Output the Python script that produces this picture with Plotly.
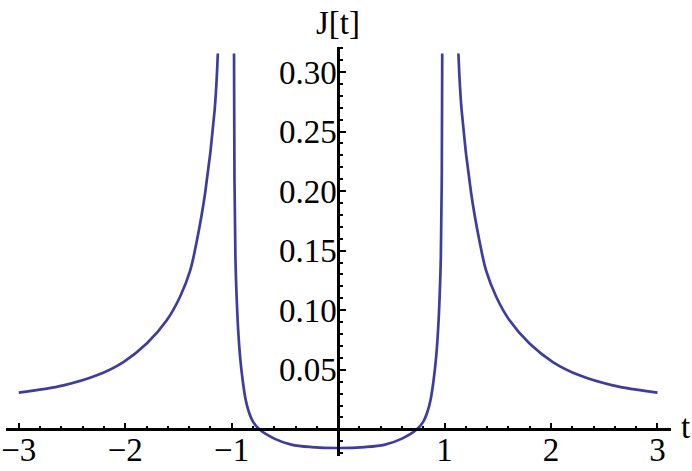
import plotly.graph_objects as go

# Left outer branch (t < -1)
t_left = [-3.0, -2.58, -2.267, -2.017, -1.798, -1.61, -1.485, -1.391, -1.328, -1.25, -1.16, -1.13]
j_left = [0.0308, 0.0369, 0.0453, 0.0565, 0.0720, 0.0915, 0.1113, 0.133, 0.158, 0.198, 0.268, 0.3155]

# Middle branch (-1 < t < 1)
t_mid = [-0.978, -0.974, -0.965, -0.955, -0.94, -0.92, -0.895, -0.87, -0.84, -0.80, -0.74, -0.60, -0.44, -0.25, 0.0,
         0.25, 0.44, 0.60, 0.74, 0.80, 0.84, 0.87, 0.895, 0.92, 0.94, 0.955, 0.965, 0.974, 0.978]
j_mid = [0.3155, 0.215, 0.145, 0.115, 0.085, 0.060, 0.040, 0.0255, 0.015, 0.0065, 0.0, -0.0078, -0.0128, -0.0149, -0.0157,
         -0.0149, -0.0128, -0.0078, 0.0, 0.0065, 0.015, 0.0255, 0.040, 0.060, 0.085, 0.115, 0.145, 0.215, 0.3155]

# Right outer branch (t > 1)
t_right = [1.13, 1.16, 1.25, 1.328, 1.391, 1.485, 1.61, 1.798, 2.017, 2.267, 2.58, 3.0]
j_right = [0.3155, 0.268, 0.198, 0.158, 0.133, 0.1113, 0.0915, 0.0720, 0.0565, 0.0453, 0.0369, 0.0308]

x_tickvals = [-3, -2, -1, 1, 2, 3]
x_ticktext = ["\u22123", "\u22122", "\u22121", "1", "2", "3"]
y_tickvals = [0.05, 0.10, 0.15, 0.20, 0.25, 0.30]
y_ticktext = ["0.05", "0.10", "0.15", "0.20", "0.25", "0.30"]

XR = [-3.12, 3.127]
YR = [-0.0224, 0.321]

line_color = "#3d3d9f"
font = dict(family="Liberation Serif", size=33, color="black")

fig = go.Figure()
for tx, jy in [(t_left, j_left), (t_mid, j_mid), (t_right, j_right)]:
    fig.add_trace(go.Scatter(x=tx, y=jy, mode="lines",
                             line=dict(color=line_color, width=2.7, shape="spline", smoothing=1.0),
                             showlegend=False, hoverinfo="skip"))

xpos = (0 - YR[0]) / (YR[1] - YR[0])
ypos = (0 - XR[0]) / (XR[1] - XR[0])

fig.update_layout(
    template="none",
    width=692, height=471,
    margin=dict(l=6, r=21, t=47, b=15, pad=0),
    paper_bgcolor="white", plot_bgcolor="white",
    font=font,
    xaxis=dict(range=XR, anchor="free", position=xpos, showgrid=False, zeroline=False,
               automargin=False,
               showline=True, linecolor="black", linewidth=2.5,
               tickmode="array", tickvals=x_tickvals, ticktext=x_ticktext,
               ticks="inside", ticklen=6, tickwidth=1.5, tickcolor="black",
               tickfont=font, ticklabelstandoff=-10, ticklabeloverflow="allow",
               minor=dict(dtick=0.2, tick0=0, ticks="inside", ticklen=3, tickwidth=1.5, tickcolor="black")),
    yaxis=dict(range=YR, anchor="free", position=ypos, showgrid=False, zeroline=False,
               automargin=False,
               showline=True, linecolor="black", linewidth=2.5,
               tickmode="array", tickvals=y_tickvals, ticktext=y_ticktext,
               ticks="inside", ticklen=6, tickwidth=1.5, tickcolor="black",
               tickfont=font, ticklabelstandoff=-6, ticklabeloverflow="allow",
               minor=dict(dtick=0.01, tick0=0, ticks="inside", ticklen=3, tickwidth=1.5, tickcolor="black")),
    annotations=[
        dict(text="J[t]", x=0, y=YR[1], xref="x", yref="y", xanchor="center", yanchor="bottom",
             yshift=4, showarrow=False, font=font),
        dict(text="t", x=XR[1], y=0, xref="x", yref="y", xanchor="left", yanchor="middle",
             xshift=8, yshift=2, showarrow=False, font=font),
    ],
)

fig.write_html("out.html", config={"displayModeBar": False},
               post_script="document.body.style.margin='0';document.body.style.overflow='hidden';")
